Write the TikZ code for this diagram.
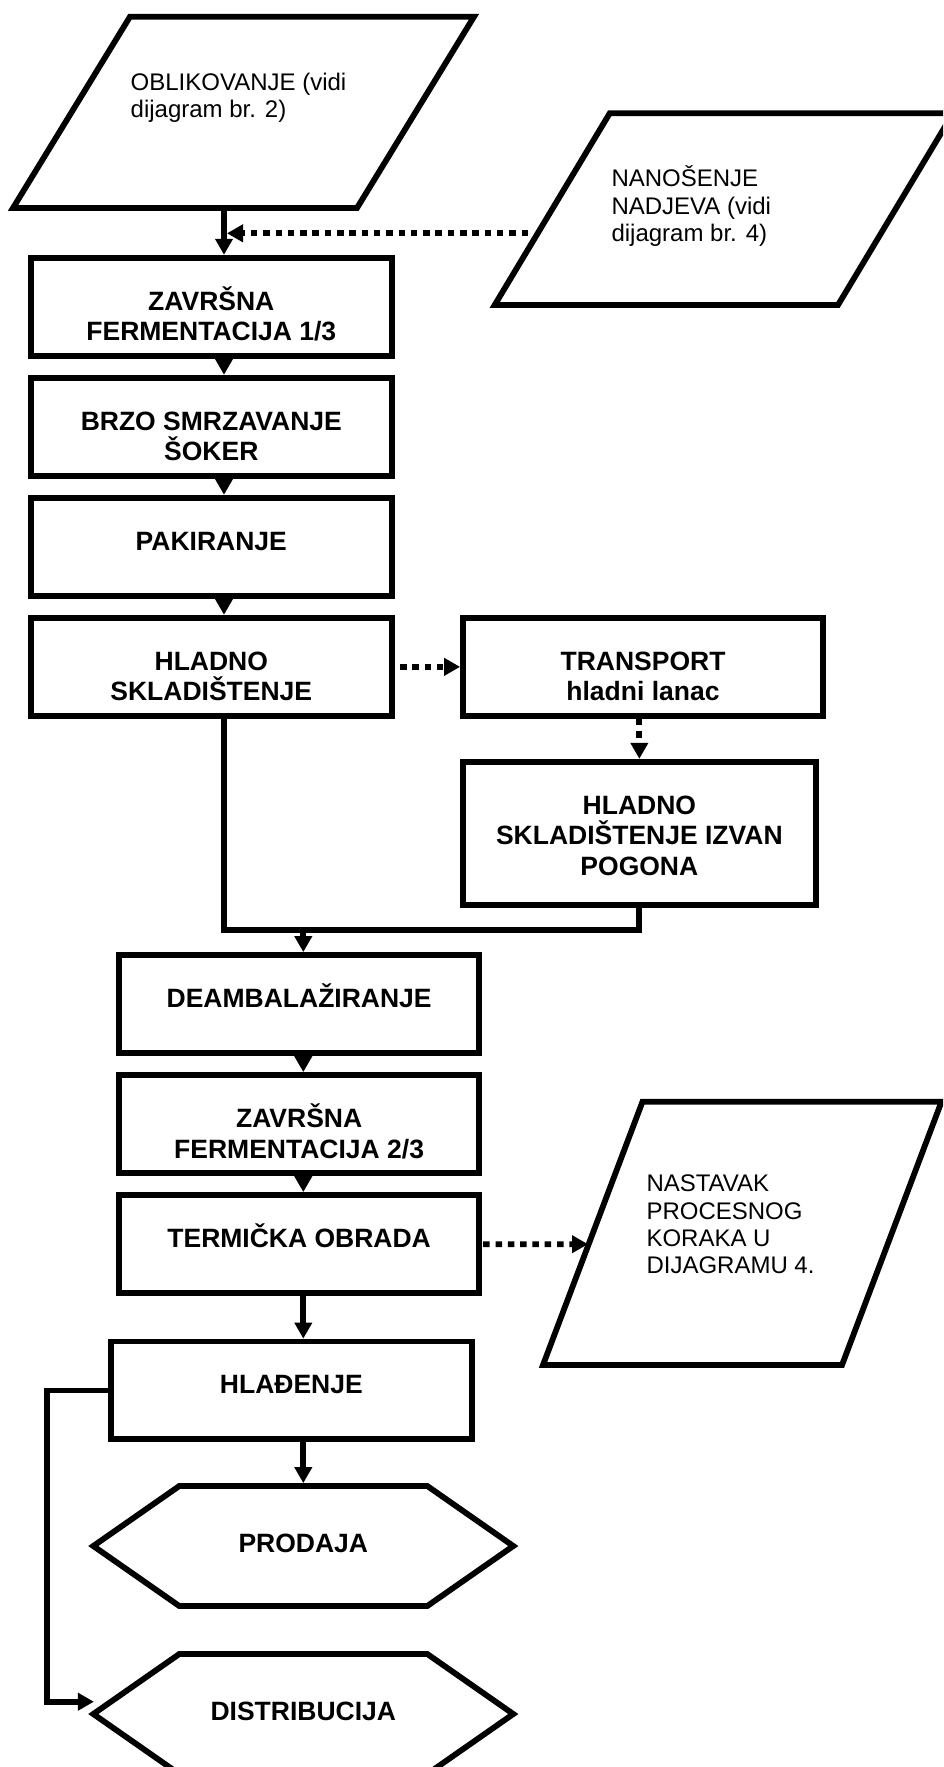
\documentclass[tikz,border=0pt]{standalone}
\usepackage{fontspec}
\setmainfont{Liberation Sans}
\usetikzlibrary{arrows.meta,calc}

% struts that fix the height of the first text line in a node
\newcommand\bstrut{\rule{0pt}{28pt}}
\newcommand\rstrut{\rule{0pt}{24pt}}

\begin{document}
\begin{tikzpicture}[x=1pt,y=-1pt,
  stepbox/.style={draw, line width=5.8pt, inner sep=0pt,
    minimum width=360.7pt, minimum height=98.3pt},
  btext/.style={anchor=north, inner sep=0pt, align=center,
    font=\fontsize{26.5}{30.8}\selectfont\bfseries},
  rtext/.style={anchor=north west, inner sep=0pt, align=left,
    font=\fontsize{24}{27.2}\selectfont},
  outline/.style={draw, line width=5.8pt, line join=miter},
  conn/.style={line width=5.8pt},
  arr/.style={conn, -{Triangle[length=16pt,width=17pt]}},
  dotarr/.style={arr, dash pattern=on 6.5pt off 5.8pt},
  hexbox/.style={inner sep=0pt, outer sep=2.9pt,
    minimum width=420pt, minimum height=120pt}
]
\useasboundingbox (0,0) rectangle (943,1767);
\fill[white] (0,0) rectangle (943,1767);
\clip (0,0) rectangle (943,1767);

% ---- input / output parallelograms ----
\draw[outline] (130,16.7) -- (474,16.7) -- (357,208) -- (13,208) -- cycle;
\node[rtext] (obl) at (130.5,66) {\rstrut OBLIKOVANJE (vidi\\dijagram br. 2)};
\coordinate (oblout) at (224,208);

\draw[outline] (609.7,113.3) -- (953,113.3) -- (838,305) -- (494.7,305) -- cycle;
\node[rtext] (nano) at (611.3,162.7) {\rstrut NANOŠENJE\\NADJEVA (vidi\\dijagram br. 4)};
\coordinate (nanoout) at (528,233.3);

\draw[outline] (642.5,1101.7) -- (941.5,1101.7) -- (842,1365) -- (543,1365) -- cycle;
\node[rtext] (nast) at (646.3,1167.7) {\rstrut NASTAVAK\\PROCESNOG\\KORAKA U\\DIJAGRAMU 4.};
\coordinate (nastin) at (588,1244.2);

% ---- process steps ----
\node[stepbox] (zav1) at (211.3,306.85) {};
\node[btext] (zav1t) at ($(zav1.north)+(0,27.05)$) {\bstrut ZAVRŠNA\\FERMENTACIJA 1/3};

\node[stepbox] (brzo) at (211.3,426.85) {};
\node[btext] (brzot) at ($(brzo.north)+(0,27.05)$) {\bstrut BRZO SMRZAVANJE\\ŠOKER};

\node[stepbox] (pak) at (211.3,546.85) {};
\node[btext] (pakt) at ($(pak.north)+(0,27.05)$) {\bstrut PAKIRANJE};

\node[stepbox] (hlad) at (211.3,666.85) {};
\node[btext] (hladt) at ($(hlad.north)+(0,27.05)$) {\bstrut HLADNO\\SKLADIŠTENJE};

\node[stepbox, minimum width=360pt] (trans) at (643,666.85) {};
\node[btext] (transt) at ($(trans.north)+(0,27.05)$) {\bstrut TRANSPORT\\hladni lanac};

\node[stepbox, minimum width=352.7pt, minimum height=143.3pt] (izvan) at (639.35,833.35) {};
\node[btext] (izvant) at ($(izvan.north)+(0,27.05)$) {\bstrut HLADNO\\SKLADIŠTENJE IZVAN\\POGONA};

\node[stepbox, minimum width=360.3pt] (deamb) at (299.15,1004.15) {};
\node[btext] (deambt) at ($(deamb.north)+(0,27.05)$) {\bstrut DEAMBALAŽIRANJE};

\node[stepbox, minimum width=360.3pt] (zav2) at (299.15,1124.15) {};
\node[btext] (zav2t) at ($(zav2.north)+(0,27.05)$) {\bstrut ZAVRŠNA\\FERMENTACIJA 2/3};

\node[stepbox, minimum width=360.3pt] (term) at (299.15,1244.15) {};
\node[btext] (termt) at ($(term.north)+(0,27.05)$) {\bstrut TERMIČKA OBRADA};

\node[stepbox, minimum height=97.8pt] (hladj) at (291.35,1390.4) {};
\node[btext] (hladjt) at ($(hladj.north)+(0,27.05)$) {\bstrut HLAĐENJE};

% ---- end points (hexagons) ----
\node[hexbox] (prod) at (303.3,1546) {};
\draw[outline] (93.3,1546) -- (179.3,1486) -- (427.3,1486) -- (513.3,1546)
  -- (427.3,1606) -- (179.3,1606) -- cycle;
\node[btext] (prodt) at ($(prod.north)+(0,40.75)$) {\bstrut PRODAJA};

\node[hexbox] (dist) at (303.3,1714) {};
\draw[outline] (93.3,1714) -- (179.3,1654) -- (427.3,1654) -- (513.3,1714)
  -- (427.3,1774) -- (179.3,1774) -- cycle;
\node[btext] (distt) at ($(dist.north)+(0,40.75)$) {\bstrut DISTRIBUCIJA};

% ---- connectors ----
\coordinate (upx) at (224,0);
\coordinate (lowx) at (303.3,0);

\draw[arr] (oblout) -- (oblout |- zav1.north);
\draw[dotarr, shorten >=3pt] (nanoout) -- (nanoout -| upx);
\draw[arr] (zav1.south -| upx) -- (brzo.north -| upx);
\draw[arr] (brzo.south -| upx) -- (pak.north -| upx);
\draw[arr] (pak.south -| upx) -- (hlad.north -| upx);
\draw[dotarr, shorten <=5.5pt] (hlad.east) -- (trans.west);
\draw[dotarr] (trans.south -| izvan.north) -- (izvan.north);

\coordinate (merge) at (303.3,930);
\draw[conn] (hlad.south -| upx) |- (merge) -| (izvan.south);
\draw[arr] (merge) -- (deamb.north -| merge);

\draw[arr] (deamb.south -| lowx) -- (zav2.north -| lowx);
\draw[arr] (zav2.south -| lowx) -- (term.north -| lowx);
\draw[dotarr, shorten <=1pt] (term.east) -- (nastin);
\draw[arr] (term.south -| lowx) -- (hladj.north -| lowx);
\draw[arr] (hladj.south -| lowx) -- (prod.north);

\coordinate (loopc) at (46.7,1701.7);
\draw[arr, shorten >=-3.5pt] (hladj.west) -| (loopc) -- (loopc -| dist.west);
\end{tikzpicture}
\end{document}
